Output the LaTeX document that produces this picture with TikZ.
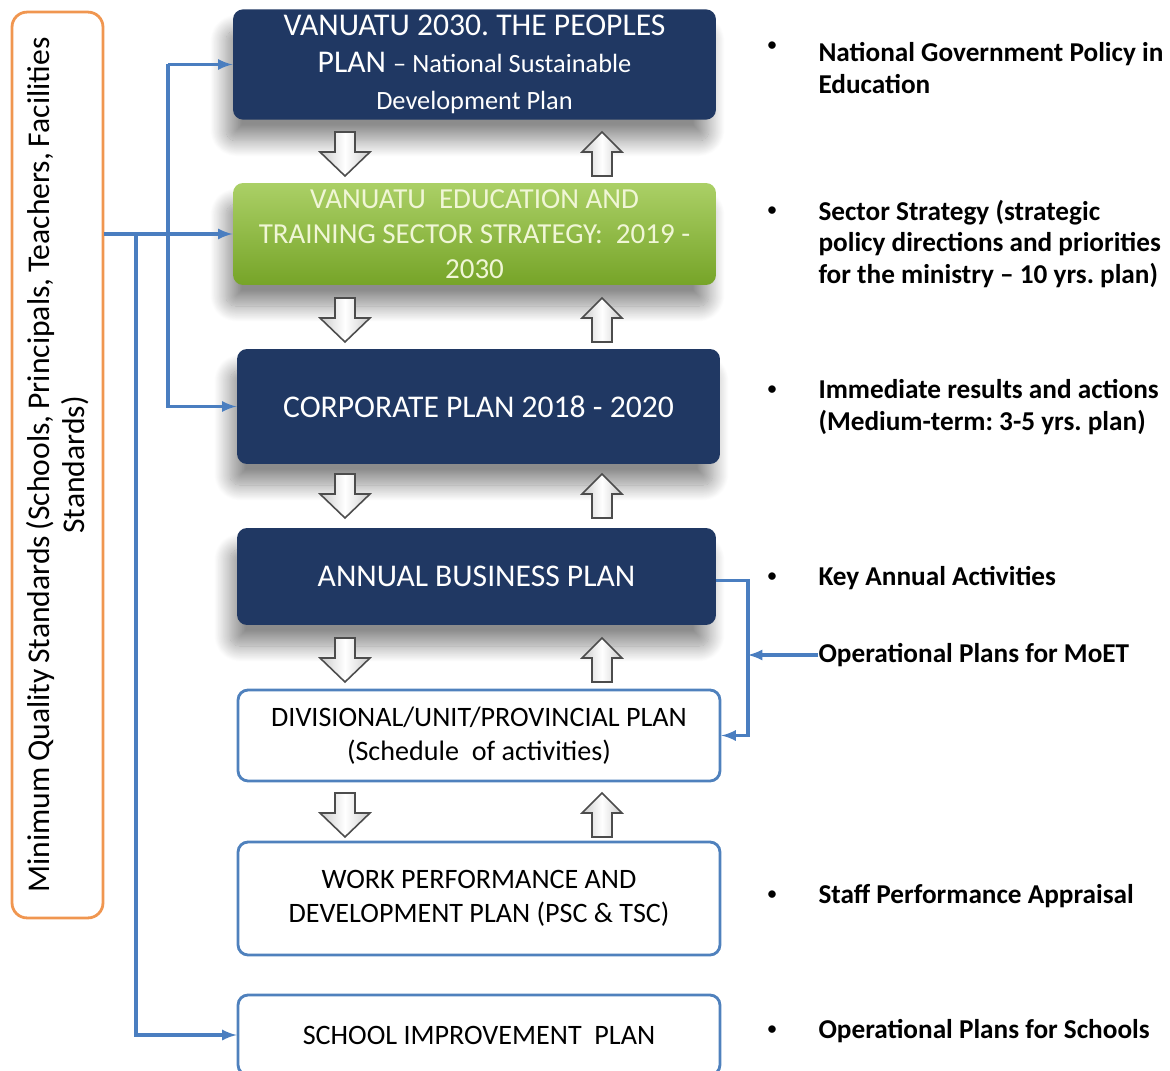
\documentclass[tikz,border=0pt]{standalone}
\usepackage{fontspec}
\setmainfont{Carlito}
\usetikzlibrary{positioning,shadows.blur}
\definecolor{navy}{RGB}{32,56,99}
\definecolor{leaf}{RGB}{150,196,64}
\definecolor{leafdark}{RGB}{118,164,40}
\definecolor{leaftext}{RGB}{240,246,214}
\definecolor{linkblue}{RGB}{74,126,192}
\definecolor{edgeblue}{RGB}{79,129,189}
\definecolor{mqsorange}{RGB}{240,150,80}
\frenchspacing
\newcommand\tightspace{\spaceskip=0.18em\relax}

\begin{document}
\begin{tikzpicture}[x=0.02cm, y=-0.02cm, semithick,
navybox/.style = { rectangle, rounded corners = 0.2cm, fill = navy, text = white, align = center,
  minimum width = 9.66cm, font = \fontsize{18}{21}\selectfont,
  blur shadow = {shadow xshift = -4pt, shadow yshift = -12pt, shadow blur radius = 9pt,
    shadow blur steps = 24, shadow opacity = 45}},
greenbox/.style = { navybox, fill = none, top color = leaf!80!white, bottom color = leafdark, text = leaftext,
  font = \fontsize{16.5}{20}\selectfont },
planbox/.style = { rectangle, rounded corners = 0.2cm, draw = edgeblue, line width = 1.6pt, fill = white,
  align = center, minimum width = 9.64cm, font = \fontsize{16}{19}\selectfont },
note/.style = { anchor = west, inner sep = 0, align = left, font = \bfseries\fontsize{15.5}{18}\selectfont },
dot/.style = { inner sep = 0, font = \fontsize{12}{14}\selectfont },
flow/.style = { -latex, draw = linkblue, line width = 1.8pt },
blockarrow/.style = { draw = black!70, line width = 0.9pt, left color = gray!40, right color = gray!40, middle color = white },
dnarrow/.pic = { \path[blockarrow] (-10,0) -- (10,0) -- (10,20) -- (25,20) -- (0,44) -- (-25,20) -- (-10,20) -- cycle; },
uparrow/.pic = { \path[blockarrow] (0,0) -- (20,20) -- (10,20) -- (10,44) -- (-10,44) -- (-10,20) -- (-20,20) -- cycle; }]
\useasboundingbox (0,0) rectangle (1170,1071);

\node[draw = mqsorange, line width = 1.6pt, rounded corners = 0.3cm, rotate = 90, minimum width = 18.12cm,
  minimum height = 1.82cm, text width = 17.8cm, align = center, font = \fontsize{18}{20}\selectfont]
  (mqs) at (57.5,465) {\tightspace Minimum Quality Standards (Schools, Principals, Teachers, Facilities\\ Standards)};

\node[navybox, minimum height = 2.1cm] (b1) at (474.5,64.5)
  {VANUATU 2030. THE PEOPLES\\ PLAN {\fontsize{15}{21}\selectfont -- National Sustainable}\\
   {\fontsize{15}{21}\selectfont Development Plan}};
\node[greenbox, minimum height = 2.04cm] (b2) at (474.5,234)
  {VANUATU\ \ EDUCATION AND\\ TRAINING SECTOR STRATEGY:\ \ 2019 -\\ 2030};
\node[navybox, minimum height = 2.3cm] (b3) at (478.5,406.5) {CORPORATE PLAN 2018 - 2020};
\node[navybox, minimum height = 1.94cm, minimum width = 9.58cm] (b4) at (476.5,576.5) {ANNUAL BUSINESS PLAN};
\node[planbox, minimum height = 1.82cm] (b5) at (479,735.5)
  {DIVISIONAL/UNIT/PROVINCIAL PLAN\\ (Schedule\ \ of activities)};
\node[planbox, minimum height = 2.26cm] (b6) at (479,898.5)
  {WORK PERFORMANCE AND\\ DEVELOPMENT PLAN (PSC \& TSC)};
\node[planbox, minimum height = 1.6cm] (b7) at (479,1035) {SCHOOL IMPROVEMENT\ \ PLAN};

\foreach \y in {132,298,474,638,793} {
  \pic at (345,\y) {dnarrow};
  \pic at (602,\y) {uparrow};
}

\coordinate (bus) at (168,0);
\coordinate (trunk) at (136,0);
\coordinate (elbow) at (748,0);
\draw[flow] (mqs.south |- b2.west) -- (b2.west);
\draw[flow] (b1.west -| bus) -- (b1.west);
\draw[flow] (b1.west -| bus) |- (b3.west);
\draw[flow] (b2.west -| trunk) |- (b7.west);
\draw[flow] ([yshift=-0.08cm]b4.east) -| (elbow |- b5.east) -- (b5.east);

\node[note] (pol) at (818,68) {National Government Policy in\\ Education};
\node[note] (sec) at (818,244) {Sector Strategy (strategic\\ policy directions and priorities\\ for the ministry -- 10 yrs. plan)};
\node[note] (imm) at (818,407) {Immediate results and actions\\ (Medium-term: 3-5 yrs. plan)};
\node[note] (key) at (818,578) {Key Annual Activities};
\node[note] (moet) at (818,655) {Operational Plans for MoET};
\node[note] (staff) at (818,896) {Staff Performance Appraisal};
\node[note] (sch) at (818,1031) {Operational Plans for Schools};
\draw[flow] (moet.west) -- (moet.west -| elbow);

\foreach \n/\y in {1/47,2/212,3/391,4/578,5/896,6/1031}
  \node[dot] (dot\n) at (772,\y) {\textbullet};
\end{tikzpicture}
\end{document}
